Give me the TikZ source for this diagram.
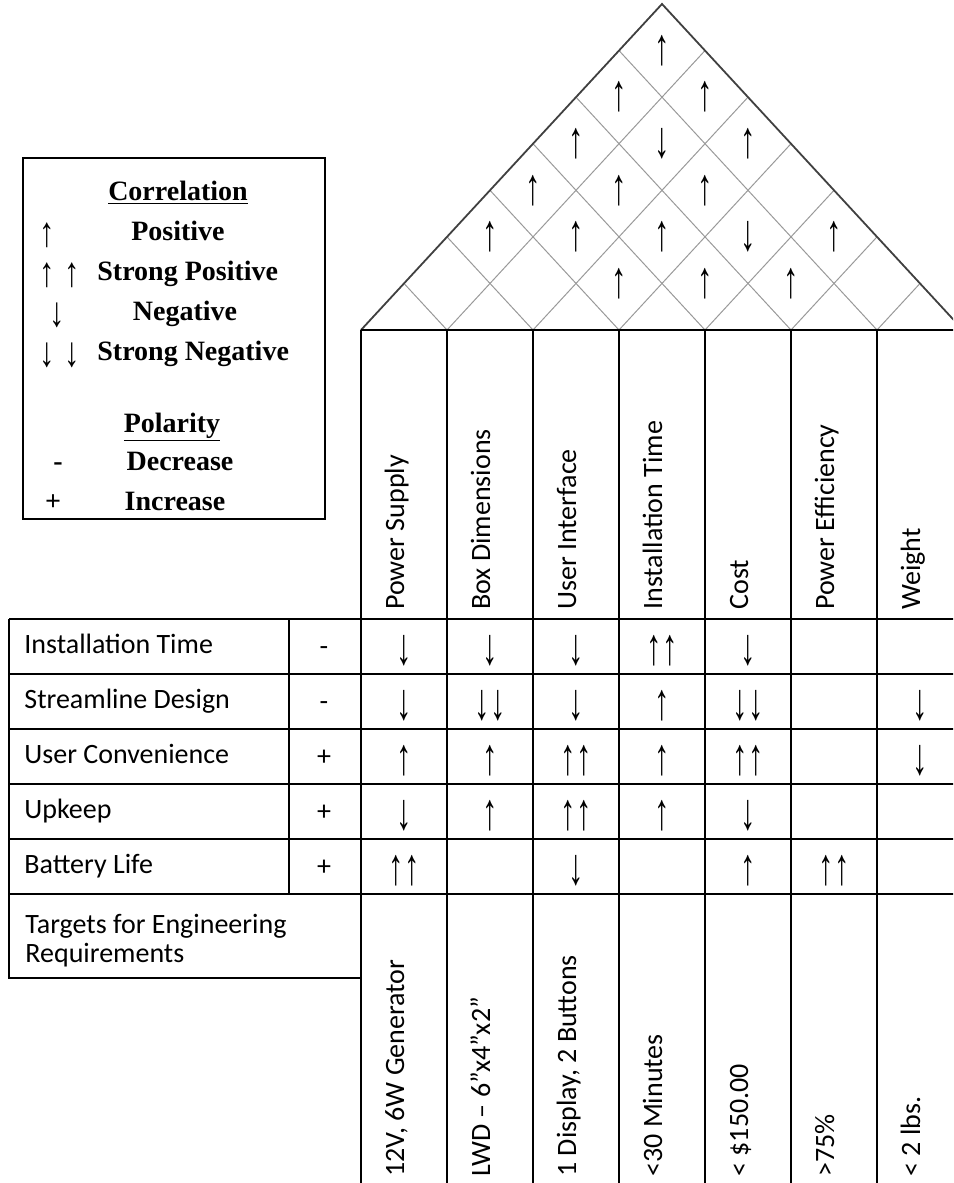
\documentclass[tikz,border=0pt]{standalone}
\usepackage{fontspec}
\usepackage{graphicx}
\setmainfont{Carlito}
\newfontfamily\legendfont{Liberation Serif}
\usetikzlibrary{calc}

\newcommand{\corrup}{\scalebox{1.1}[1.85]{\legendfont\symbol{"2191}}}
\newcommand{\corrdown}{\scalebox{1.1}[1.85]{\legendfont\symbol{"2193}}}
\newcommand{\corrupup}{\corrup\corrup}
\newcommand{\corrdowndown}{\corrdown\corrdown}
\newcommand{\legup}{\scalebox{1.1}[1.5]{\legendfont\symbol{"2191}}}
\newcommand{\legdown}{\scalebox{1.1}[1.5]{\legendfont\symbol{"2193}}}

\begin{document}
\begin{tikzpicture}[x=0.5pt,y=-0.5pt,
  grid/.style={line width=0.9pt},
  heavy/.style={line width=1.3pt},
  lattice/.style={line width=0.5pt, gray!80},
  lbl/.style={inner sep=0pt, font=\fontsize{14pt}{17pt}\selectfont},
  leg/.style={inner sep=0pt, font=\legendfont\bfseries\fontsize{14pt}{17pt}\selectfont}]

  \useasboundingbox (0,0) rectangle (953,1183);
  \clip (0,0) rectangle (953,1183);

  % Roof
  \coordinate (L) at (361,330);
  \coordinate (R) at (963,330);
  \coordinate (T) at (662,4);

  \foreach \k in {1,...,6} {
    \draw[lattice] ($(L)!\k/7!(R)$) -- ($(L)!\k/7!(T)$);
    \draw[lattice] ($(L)!\k/7!(R)$) -- ($(R)!{(7-\k)/7}!(T)$);
  }
  \draw[line width=0.9pt, black!75] (L) -- (T) -- (R);

  % Correlations in the roof
  \foreach \i/\j in {0/6, 0/5, 1/6, 0/4, 2/6, 0/3, 1/4, 2/5, 0/2, 1/3, 2/4, 4/6, 2/3, 3/4, 4/5}
    \node[lbl] (r\i\j) at ({361+43*(\i+\j+1)}, {330-46.57*(\j-\i)}) {\corrup};
  \foreach \i/\j in {1/5, 3/5}
    \node[lbl] (r\i\j) at ({361+43*(\i+\j+1)}, {330-46.57*(\j-\i)}) {\corrdown};

  % Legend
  \draw[grid] (23,158) rectangle (325,519);
  \node[leg, anchor=base] (corr) at (178,200) {\underline{Correlation}};
  \node[leg] (a1) at (47,235) {\legup};
  \node[leg, anchor=base] (pos) at (178,240) {Positive};
  \node[leg] (a2) at (47,275) {\legup};
  \node[leg] (a3) at (72,275) {\legup};
  \node[leg, anchor=base west] (spos) at (97,280) {Strong Positive};
  \node[leg] (a4) at (57,315) {\legdown};
  \node[leg, anchor=base] (neg) at (185,320) {Negative};
  \node[leg] (a5) at (47,355) {\legdown};
  \node[leg] (a6) at (72,355) {\legdown};
  \node[leg, anchor=base west] (sneg) at (97,360) {Strong Negative};
  \node[leg, anchor=base] (pol) at (172,432) {\underline{Polarity}};
  \node[leg, anchor=base] (minus) at (58,470) {-};
  \node[leg, anchor=base] (dec) at (180,470) {Decrease};
  \node[leg, anchor=base] (plus) at (53,510) {+};
  \node[leg, anchor=base] (inc) at (175,510) {Increase};

  % Columns
  \foreach \k in {0,...,7}
    \draw[grid] ({361+86*\k},330) -- ({361+86*\k},1183);
  \draw[heavy] (361,330) -- (963,330);
  \draw[heavy] (9,619) -- (963,619);
  \foreach \y in {674,729,784,839}
    \draw[grid] (9,\y) -- (963,\y);
  \draw[heavy] (9,894) -- (963,894);
  \draw[grid] (9,619) -- (9,978) -- (361,978);
  \draw[grid] (289,619) -- (289,894);

  % Engineering requirements
  \foreach \k/\t in {0/Power Supply, 1/Box Dimensions, 2/User Interface,
                     3/Installation Time, 4/Cost, 5/Power Efficiency, 6/Weight}
    \node[lbl, rotate=90, anchor=base west] (h\k) at ({404+86*\k},610) {\t};

  % Targets
  \foreach \k/\t in {0/{12V, 6W Generator}, 1/{LWD – 6”x4”x2”}, 2/{1 Display, 2 Buttons},
                     3/<30 Minutes, 4/< \$150.00, 5/>75\%, 6/< 2 lbs.}
    \node[lbl, rotate=90, anchor=base west] (t\k) at ({404+86*\k},1177) {\t};
  \node[lbl, anchor=base west] (tgt1) at (25,933) {Targets for Engineering};
  \node[lbl, anchor=base west] (tgt2) at (25,962) {Requirements};

  % Customer requirements
  \foreach \r/\t/\p in {0/Installation Time/-, 1/Streamline Design/-, 2/User Convenience/+,
                        3/Upkeep/+, 4/Battery Life/+} {
    \node[lbl, anchor=base west] (c\r) at (24,{653.5+55*\r}) {\t};
    \node[lbl, anchor=base] (p\r) at (324,{655+55*\r}) {\p};
  }

  % Relationships
  \foreach \k/\s in {0/\corrdown, 1/\corrdown, 2/\corrdown, 3/\corrupup, 4/\corrdown}
    \node[lbl] (m0\k) at ({404+86*\k},651) {\s};
  \foreach \k/\s in {0/\corrdown, 1/\corrdowndown, 2/\corrdown, 3/\corrup, 4/\corrdowndown, 6/\corrdown}
    \node[lbl] (m1\k) at ({404+86*\k},706) {\s};
  \foreach \k/\s in {0/\corrup, 1/\corrup, 2/\corrupup, 3/\corrup, 4/\corrupup, 6/\corrdown}
    \node[lbl] (m2\k) at ({404+86*\k},761) {\s};
  \foreach \k/\s in {0/\corrdown, 1/\corrup, 2/\corrupup, 3/\corrup, 4/\corrdown}
    \node[lbl] (m3\k) at ({404+86*\k},816) {\s};
  \foreach \k/\s in {0/\corrupup, 2/\corrdown, 4/\corrup, 5/\corrupup}
    \node[lbl] (m4\k) at ({404+86*\k},871) {\s};

\end{tikzpicture}
\end{document}
